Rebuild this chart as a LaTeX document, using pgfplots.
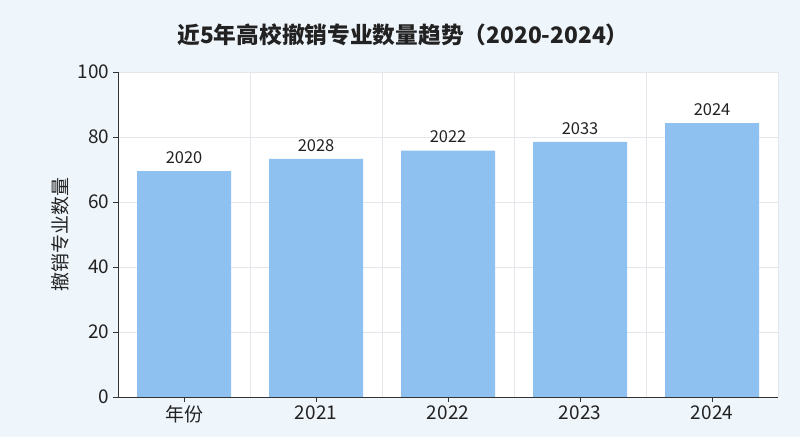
\documentclass[border=0pt]{standalone}
\usepackage{fontspec}
\setmainfont{Noto Sans CJK SC}
\usepackage{pgfplots}
\pgfplotsset{compat=1.18}
\definecolor{bgc}{HTML}{EEF5FB}
\definecolor{barc}{HTML}{8EC0F0}
\definecolor{axc}{HTML}{333333}
\definecolor{gridc}{HTML}{E3E6EA}
\definecolor{txt}{HTML}{222222}
\pgfplotstableread{
x y lab
0 69.5 2020
1 73.3 2028
2 75.8 2022
3 78.5 2033
4 84.3 2024
}\datatab
\begin{document}
\begin{tikzpicture}[x=1bp,y=1bp]
\fill[bgc] (0,0) rectangle (800,437);
\node[font=\fontsize{22.8}{26}\selectfont\bfseries, text=txt] at (403,402) {近5年高校撤销专业数量趋势（2020-2024）};
\begin{axis}[
  at={(118bp,40bp)}, anchor=south west,
  scale only axis, width=660bp, height=325bp,
  xmin=-0.5, xmax=4.5, ymin=0, ymax=100,
  ytick={0,20,...,100},
  xtick={0,...,4}, xticklabels={年份,2021,2022,2023,2024},
  minor xtick={0.5,1.5,2.5,3.5,4.5},
  xminorgrids, ymajorgrids,
  grid style={gridc, line width=0.6pt},
  minor grid style={gridc, line width=0.6pt},
  axis x line=bottom, axis y line=left,
  axis line style={-, axc, line width=0.8pt},
  tick align=outside, major tick length=5bp, minor tick length=0pt,
  tick style={axc, line width=0.8pt},
  axis background/.style={fill=white},
  /pgf/number format/assume math mode=true,
  ticklabel style={font=\fontsize{19}{21}\selectfont, text=txt},
  ylabel={撤销专业数量},
  ylabel style={font=\fontsize{19}{21}\selectfont, text=txt, yshift=2bp},
  ybar, bar width=94bp,
  nodes near coords, point meta=explicit symbolic,
  nodes near coords style={font=\fontsize{16.5}{18}\selectfont, text=txt, yshift=4bp},
  clip=false,
]
\addplot[fill=barc, draw=none] table[x=x, y=y, meta=lab] {\datatab};
\end{axis}
\end{tikzpicture}
\end{document}
